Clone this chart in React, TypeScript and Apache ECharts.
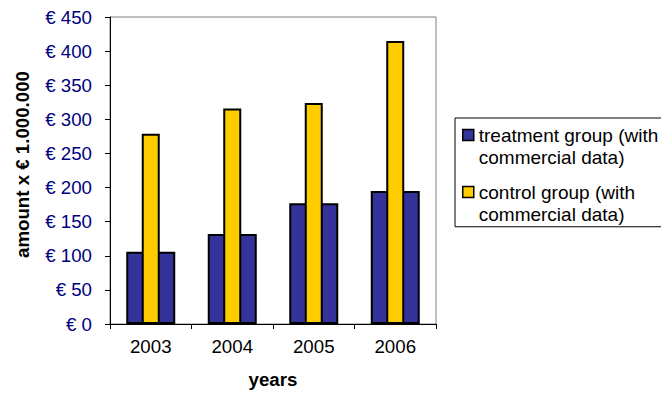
import React, { useEffect, useRef } from "react";
import * as echarts from "echarts";

const years = ["2003", "2004", "2005", "2006"];
const treatmentValues = [106, 132, 177, 195];
const controlValues = [279, 316, 324, 415];
const treatmentName = "treatment group (with\ncommercial data)";
const controlName = "control group (with\ncommercial data)";

const FONT = "Arial, 'Liberation Sans', sans-serif";
const FS = 18.7;

export default function App() {
  const ref = useRef<HTMLDivElement>(null);
  useEffect(() => {
    if (!ref.current) return;
    const chart = echarts.init(ref.current, undefined, { renderer: "svg" });
    chart.setOption({
      animation: false,
      backgroundColor: "#ffffff",
      textStyle: { fontFamily: FONT },
      grid: {
        left: 110,
        right: 225,
        top: 17,
        bottom: 69,
        show: true,
        borderColor: "#808080",
        borderWidth: 1,
      },
      legend: {
        orient: "vertical",
        left: 455,
        top: 118,
        padding: [6.25, 20, 1, 7],
        itemGap: 12.5,
        itemWidth: 11,
        itemHeight: 43,
        icon: "path://M0 0 M0 4.5 L11 4.5 L11 15.5 L0 15.5 Z M0 43 M11 43",
        itemStyle: { borderColor: "#000000", borderWidth: 1.5 },
        borderColor: "#000000",
        borderWidth: 1,
        backgroundColor: "#ffffff",
        textStyle: {
          fontFamily: FONT,
          fontSize: 19,
          lineHeight: 21.5,
          color: "#000000",
        },
        data: [treatmentName, controlName],
      },
      xAxis: [
        {
          type: "category",
          data: years,
          gridIndex: 0,
          axisLine: { lineStyle: { color: "#000000", width: 1 } },
          axisTick: { show: true, length: 5, lineStyle: { color: "#000000" } },
          axisLabel: { fontSize: FS, color: "#000000", margin: 13, fontFamily: FONT },
          name: "years",
          nameLocation: "middle",
          nameGap: 46,
          nameTextStyle: { fontSize: FS, fontWeight: "bold", color: "#000000", fontFamily: FONT },
        },
        {
          type: "category",
          data: years,
          gridIndex: 0,
          show: false,
        },
      ],
      yAxis: {
        type: "value",
        min: 0,
        max: 450,
        interval: 50,
        axisLine: { show: true, lineStyle: { color: "#000000", width: 1 } },
        axisTick: { show: true, length: 5, lineStyle: { color: "#000000" } },
        splitLine: { show: false },
        axisLabel: {
          fontSize: FS,
          color: "#000080",
          margin: 18,
          fontFamily: FONT,
          formatter: (v: number) => "€ " + v,
        },
        name: "amount x € 1.000.000",
        nameLocation: "middle",
        nameRotate: 90,
        nameGap: 78,
        nameTextStyle: {
          fontSize: FS,
          fontWeight: "bold",
          color: "#000000",
          fontFamily: FONT,
          padding: [0, 0, 0, 12],
        },
      },
      series: [
        {
          name: treatmentName,
          type: "bar",
          xAxisIndex: 0,
          data: treatmentValues,
          barWidth: 49,
          itemStyle: { color: "#333399", borderColor: "#000000", borderWidth: 2 },
        },
        {
          name: controlName,
          type: "bar",
          xAxisIndex: 1,
          data: controlValues,
          barWidth: 18,
          itemStyle: { color: "#FFCC00", borderColor: "#000000", borderWidth: 2 },
        },
      ],
    });
    return () => chart.dispose();
  }, []);
  return (
    <div
      ref={ref}
      style={{ position: "fixed", left: 0, top: 0, width: 661, height: 394 }}
    />
  );
}
